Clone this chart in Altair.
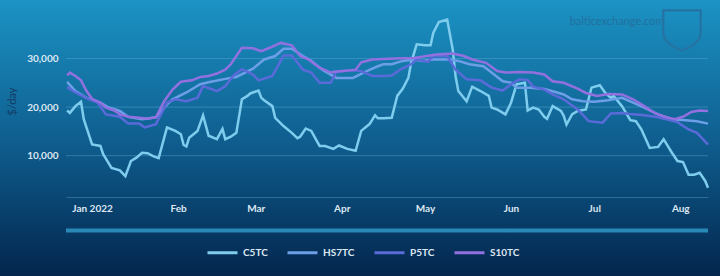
import altair as alt
import pandas as pd

BASE = pd.Timestamp("2022-01-01")
SERIES = ["C5TC", "HS7TC", "P5TC", "S10TC"]
COLORS = ["#7fcdee", "#6d9fe8", "#5b6ad9", "#9370e0"]
Y_TICKS = [10000, 20000, 30000]

# day offsets from 1 Jan 2022 and $/day values
c5_days = [-9, -8, -6, -4, -3, 0, 3, 4, 7, 10, 12, 14, 16, 18, 20, 22, 24, 27, 30, 32, 33, 34, 35, 38, 40,
           42, 45, 47, 48, 50, 52, 54, 56, 57, 60, 61, 62, 65, 66, 69, 72, 74, 75, 77, 79, 82, 84, 87, 89, 92,
           95, 97, 100, 102, 103, 105, 108, 110, 112, 114, 115, 117, 120, 122, 123, 125, 128, 130, 131, 132,
           135, 137, 140, 143, 144, 146, 149, 151, 153, 156, 157, 159, 161, 163, 164, 166, 169, 170, 171, 173,
           175, 178, 180, 183, 185, 187, 188, 191, 194, 196, 198, 201, 204, 206, 209, 211, 213, 215, 217, 219,
           221, 222]
c5_vals = [19300, 18800, 20200, 21100, 17500, 12300, 12000, 10300, 7500, 7000, 5800, 8900, 9600, 10600, 10500,
           9900, 9500, 15800, 15100, 14400, 12200, 11900, 13700, 15100, 18300, 14100, 13400, 15500, 13400, 13900,
           14700, 21600, 22300, 22800, 23400, 21900, 21400, 20200, 17800, 16100, 14700, 13600, 13900, 15600, 15100,
           12000, 12000, 11400, 12100, 11400, 11000, 15100, 16500, 18300, 17700, 17700, 17800, 22300, 23800, 26000,
           29100, 32900, 32700, 32700, 35300, 37500, 38000, 31800, 26400, 23300, 21200, 24200, 23300, 22300, 19900,
           19500, 18500, 20900, 24700, 25000, 19300, 19900, 19500, 18000, 17600, 20200, 19200, 18200, 16400, 18500,
           19200, 19500, 24000, 24500, 22900, 21900, 22300, 20200, 17300, 17100, 15400, 11600, 11800, 13400, 10600,
           8900, 8700, 6100, 6100, 6500, 4800, 3400]

hs7_days = [-9, -6, -2, 3, 6, 10, 13, 18, 23, 27, 29, 34, 39, 42, 48, 52, 58, 62, 66, 69, 72, 76, 79, 83, 88,
            94, 99, 103, 105, 108, 112, 116, 119, 123, 129, 132, 136, 141, 144, 148, 151, 153, 158, 163, 167,
            170, 173, 177, 181, 186, 191, 195, 199, 204, 209, 214, 218, 222]
hs7_vals = [25200, 23300, 21900, 20900, 19900, 19200, 18000, 17500, 17900, 20500, 21600, 23000, 24700, 25100,
            25800, 26200, 27900, 29800, 30500, 32000, 32000, 30500, 29500, 27700, 26000, 26000, 27400, 28400,
            28800, 28800, 29500, 29800, 29500, 29800, 29800, 29500, 28800, 28400, 27100, 25300, 25000, 24000,
            24000, 23700, 23100, 22600, 21600, 21200, 21100, 21400, 21900, 20900, 19900, 18500, 17500, 17300,
            17100, 16600]

p5_days = [-9, -6, -1, 2, 5, 10, 13, 17, 19, 23, 27, 30, 34, 38, 40, 45, 48, 51, 54, 58, 60, 65, 69, 72, 76,
           79, 82, 86, 88, 94, 97, 101, 105, 108, 111, 115, 117, 121, 123, 128, 131, 135, 140, 144, 148, 151,
           154, 157, 159, 163, 166, 170, 175, 179, 184, 187, 191, 195, 199, 204, 207, 211, 215, 218, 222]
p5_vals = [24100, 23000, 21600, 20900, 18500, 18000, 16600, 16600, 15800, 16500, 20900, 21600, 21200, 21900,
           24300, 23300, 24300, 26500, 27800, 26700, 25500, 26400, 30600, 30600, 27700, 27100, 25000, 25000,
           27200, 27600, 27400, 26400, 26400, 26500, 27700, 28800, 29800, 29300, 30500, 30500, 27700, 25700,
           25500, 24000, 23400, 24700, 25700, 25600, 24200, 23600, 22600, 21600, 19500, 17100, 16800, 18700,
           18800, 18500, 18300, 17900, 17500, 16900, 15400, 14700, 12300]

s10_days = [-9, -8, -6, -4, -2, 0, 3, 5, 8, 10, 13, 17, 20, 23, 26, 29, 32, 36, 39, 42, 45, 48, 50, 54, 58,
            61, 64, 68, 72, 75, 78, 82, 86, 88, 92, 95, 97, 101, 105, 109, 116, 124, 130, 134, 137, 142, 146,
            149, 154, 159, 163, 166, 170, 175, 178, 182, 186, 191, 195, 199, 203, 207, 210, 213, 216, 219, 222]
s10_vals = [26500, 27100, 26400, 25500, 23300, 21700, 20900, 19900, 19300, 18500, 18000, 17800, 17600, 17900,
            21200, 23600, 25200, 25500, 26200, 26400, 26900, 27700, 28800, 32200, 32100, 31500, 32200, 33200,
            32700, 30500, 29800, 28100, 27100, 27300, 27500, 27700, 29200, 29800, 29900, 30000, 30100, 30800,
            31000, 30500, 29800, 29100, 27400, 27100, 27200, 27100, 26700, 25300, 25000, 23800, 22900, 22300,
            22700, 22600, 21600, 20200, 18700, 17900, 17500, 18000, 19000, 19300, 19200]


def frame(name, days, vals):
    return pd.DataFrame({
        "date": BASE + pd.to_timedelta(days, unit="D"),
        "value": vals,
        "series": name,
    })


df = pd.concat([
    frame("C5TC", c5_days, c5_vals),
    frame("HS7TC", hs7_days, hs7_vals),
    frame("P5TC", p5_days, p5_vals),
    frame("S10TC", s10_days, s10_vals),
], ignore_index=True)
df["order"] = df["series"].map({s: i for i, s in enumerate(SERIES)})

W, H = 642, 192
FONT = "Lato"
LABEL = "#dde7f1"

yscale = alt.Scale(domain=[1500, 41000], nice=False, zero=False)
xscale = alt.Scale(domain=[alt.DateTime(year=2021, month=12, date=22, hours=14, minutes=24),
                           alt.DateTime(year=2022, month=8, date=11)], nice=False)
yaxis = alt.Axis(values=Y_TICKS, labelExpr="format(datum.value, ',.0f')", grid=False, ticks=False,
                 domain=False, labelColor=LABEL, labelFont=FONT, labelFontWeight="bold", labelFontSize=10,
                 labelPadding=8, titleColor="#123c62", titleFont=FONT, titleFontSize=11,
                 titleFontWeight="normal", titlePadding=9, zindex=1)

one = pd.DataFrame({"k": [0]})

bg = alt.Chart(one).mark_rect(
    color=alt.LinearGradient(
        gradient="linear", x1=0, y1=0, x2=0, y2=1,
        stops=[alt.GradientStop(color="#1b93c4", offset=0),
               alt.GradientStop(color="#0f5f90", offset=0.5),
               alt.GradientStop(color="#03264e", offset=1)])
).encode(x=alt.value(-66), x2=alt.value(W + 12), y=alt.value(-5), y2=alt.value(H + 79))

grid = alt.Chart(pd.DataFrame({"value": Y_TICKS})).mark_rule(
    color="#5aa8d0", opacity=0.45, strokeWidth=1
).encode(y=alt.Y("value:Q", scale=yscale, title="$/day", axis=yaxis))

bar = alt.Chart(one).mark_rule(color="#2a88b5", strokeWidth=4).encode(
    x=alt.value(0), x2=alt.value(W), y=alt.value(225.5))

mark_txt = alt.Chart(one).mark_text(
    text="balticexchange.com", font=FONT, fontSize=11, color="#22709d", align="center", baseline="middle"
).encode(x=alt.value(551), y=alt.value(17))

shield = alt.Chart(one).mark_point(
    shape="M-1,-1 L1,-1 L1,0.2 C1,0.7 0.4,1 0,1.15 C-0.4,1 -1,0.7 -1,0.2 Z",
    filled=False, color="#2473a2", strokeWidth=2.2, opacity=1, size=1400
).encode(x=alt.value(616), y=alt.value(24))

lines = alt.Chart(df).mark_line(strokeWidth=2.5).encode(
    x=alt.X("date:T", scale=xscale, title=None,
            axis=alt.Axis(values=[alt.DateTime(year=2022, month=m, date=1) for m in range(1, 9)],
                          labelExpr="month(datum.value) == 0 ? 'Jan 2022' : timeFormat(datum.value, '%b')",
                          grid=False, ticks=False, domain=True, domainColor="#2c6d98", domainWidth=1,
                          labelColor=LABEL, labelFont=FONT, labelFontWeight="bold", labelFontSize=10,
                          labelPadding=6, zindex=1)),
    y=alt.Y("value:Q", scale=yscale, title="$/day", axis=yaxis),
    color=alt.Color("series:N", scale=alt.Scale(domain=SERIES, range=COLORS),
                    legend=alt.Legend(orient="none", legendX=140, legendY=231, direction="horizontal",
                                      title=None, symbolType="stroke", symbolSize=900, symbolStrokeWidth=3,
                                      labelColor=LABEL, labelFont=FONT, labelFontWeight="bold",
                                      labelFontSize=10, labelOffset=4, columnPadding=13)),
    order=alt.Order("order:Q"),
    detail="series:N",
)

chart = alt.layer(bg, grid, bar, mark_txt, shield, lines).properties(
    width=W, height=H,
    padding={"left": 66, "top": 5, "right": 12, "bottom": 79},
    autosize=alt.AutoSizeParams(type="none"),
    background="#0b4a78",
).configure_view(strokeWidth=0)

chart.save("out.html", embed_options={"renderer": "svg", "actions": False})
